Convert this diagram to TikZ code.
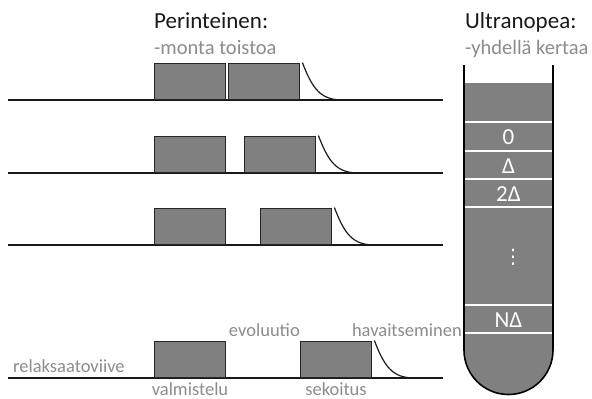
\documentclass[tikz,border=0pt]{standalone}
\usepackage{fontspec}
\setmainfont{Carlito}
\newfontfamily\symfont{DejaVu Sans}
\begin{document}
\begin{tikzpicture}[x=1pt,y=-1pt,
  pbox/.style={draw=black!85,fill=black!50,line width=1.4pt,inner sep=0pt,
    minimum width=71pt,minimum height=36pt,anchor=south west},
  base/.style={draw=black!90,line width=1.6pt},
  decay/.style={draw=black!90,line width=1.2pt},
  title/.style={anchor=base west,inner sep=0pt,font=\fontsize{23}{26}\selectfont,text=black!90},
  sub/.style={anchor=base west,inner sep=0pt,font=\fontsize{20.5}{24}\selectfont,text=black!45},
  lbl/.style={inner sep=0pt,font=\fontsize{18.5}{21}\selectfont,text=black!45},
  tubetxt/.style={inner sep=0pt,font=\fontsize{23}{26}\selectfont,text=white},
  sep/.style={draw=white,line width=1.4pt}]
\useasboundingbox (0,0) rectangle (592,399);

% headings
\node[title] (tP) at (154,28) {Perinteinen:};
\node[sub] (sP) at (154,54) {-monta toistoa};
\node[title] (tU) at (465,28) {Ultranopea:};
\node[sub] (sU) at (465,54) {-yhdellä kertaa};

% pulse sequences: baseline, preparation block, mixing block, decay
\foreach \i/\yb/\xb in {1/100/228, 2/173/244, 3/245/260, 4/378/300}{
  \coordinate (s\i) at (8,\yb);
  \coordinate (e\i) at (443,\yb);
  \draw[base] (s\i) -- (e\i);
  \node[pbox] (a\i) at (154,\yb) {};
  \node[pbox] (b\i) at (\xb,\yb) {};
  \coordinate (d\i) at ([xshift=42pt]b\i.south east);
  \draw[decay] ([xshift=2pt]b\i.north east) .. controls ([xshift=12pt,yshift=-26pt]b\i.north east) and ([xshift=20pt]b\i.south east) .. (d\i);
}

% labels of the last sequence
\node[lbl,anchor=base west] (lr) at (13,372) {relaksaatoviive};
\node[lbl,anchor=base] (lv) at (190,395) {valmistelu};
\node[lbl,anchor=base east] (le) at (300,336) {evoluutio};
\node[lbl,anchor=base] (ls) at (336,395) {sekoitus};
\node[lbl,anchor=base east] (lh) at (462,336) {havaitseminen};

% tube with slices
\fill[black!50] (464,83) -- (464,350) arc[start angle=180,end angle=0,radius=44.5] -- (553,83) -- cycle;
\foreach \yy in {122,151,179,207,305,333}{
  \draw[sep] (465,\yy) -- (552,\yy);
}
\draw[draw=black,line width=1.6pt] (464,65) -- (464,350) arc[start angle=180,end angle=0,radius=44.5] -- (553,65);

\node[tubetxt] (n0) at (508.5,137) {0};
\node[tubetxt] (n1) at (508.5,166) {Δ};
\node[tubetxt] (n2) at (508.5,194) {2Δ};
\node[tubetxt,font=\symfont\fontsize{20}{22}\selectfont] (nd) at (513,257) {⋮};
\node[tubetxt] (nN) at (508.5,320) {NΔ};
\end{tikzpicture}
\end{document}
